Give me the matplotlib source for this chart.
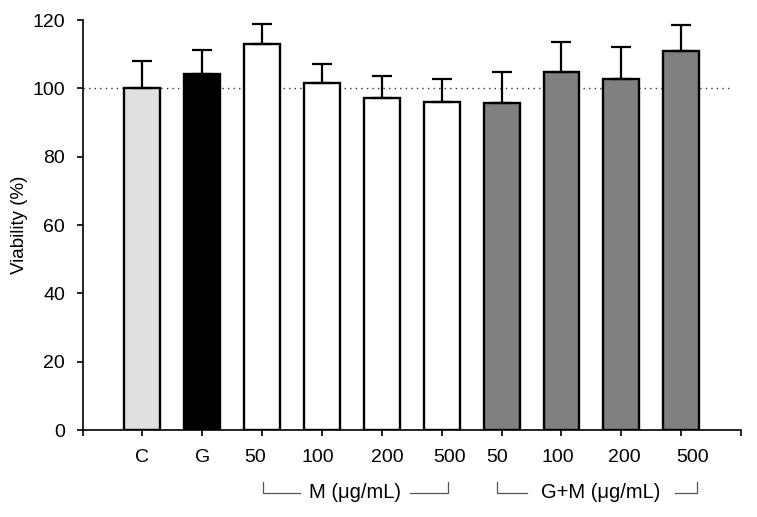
import matplotlib.pyplot as plt
import matplotlib.transforms as mtransforms
import numpy as np

plt.rcParams['font.family'] = ['Liberation Sans', 'DejaVu Sans']

# data
labels = ["C", "G", "50", "100", "200", "500", "50", "100", "200", "500"]
viability = [100.0, 104.2, 112.9, 101.5, 97.3, 96.1, 95.7, 104.9, 102.7, 111.0]
sd = [8.1, 7.0, 5.9, 5.8, 6.5, 6.6, 9.1, 8.6, 9.5, 7.6]
colors = ["#e0e0e0", "#000000"] + ["#ffffff"] * 4 + ["#808080"] * 4
groups = ["M (\u03bcg/mL)", "G+M (\u03bcg/mL)"]

# layout: small horizontal shifts of the tick labels (pixels), bracket ends (x units)
label_shift = [0, 0, -7, -4.5, 5, 8, -5, -3.5, 3, 11]
bracket_x = [(3.01, 3.63, 5.47, 6.11), (6.93, 7.43, 9.89, 10.27)]

fig = plt.figure(figsize=(7.57, 5.17), dpi=100)
ax = fig.add_axes([0.109, 0.168, 0.870, 0.793])

x = np.arange(1, len(labels) + 1)
ax.bar(x, viability, width=0.6, color=colors, edgecolor="black", linewidth=1.7, zorder=2)
ax.errorbar(x, viability, yerr=[np.zeros(len(sd)), sd], fmt="none", ecolor="black",
            elinewidth=1.6, capsize=7, capthick=1.6, zorder=3)

# reference line at 100 %
ax.plot([0, 10.85], [100, 100], linestyle=(0, (1, 3)), color="#333333", linewidth=1, zorder=1)

ax.set_xlim(0, 11)
ax.set_ylim(0, 120)
ax.set_yticks(range(0, 121, 20))
ax.set_xticks(range(0, 12))
ax.set_xticklabels([""] + labels + [""])
ax.tick_params(direction="out", length=4.5, width=1.2, labelsize=14)
ax.tick_params(axis="x", pad=9)
ax.tick_params(axis="y", pad=8)
ax.spines["top"].set_visible(False)
ax.spines["right"].set_visible(False)
ax.spines["left"].set_linewidth(1.2)
ax.spines["bottom"].set_linewidth(1.2)
ax.set_ylabel("Viability (%)", fontsize=13.5, labelpad=3)

for lab, dx in zip(ax.get_xticklabels()[1:-1], label_shift):
    lab.set_transform(lab.get_transform() +
                      mtransforms.ScaledTranslation(dx / 100, 0, fig.dpi_scale_trans))

# group brackets under the tick labels
trans = ax.get_xaxis_transform()
for name, (a, b, c, d) in zip(groups, bracket_x):
    ax.plot([a, a, b], [-0.126, -0.153, -0.153], color="#555555", linewidth=0.9,
            transform=trans, clip_on=False)
    ax.plot([c, d, d], [-0.153, -0.153, -0.126], color="#555555", linewidth=0.9,
            transform=trans, clip_on=False)
    ax.text((b + c) / 2, -0.153, name, ha="center", va="center", fontsize=14.5,
            transform=trans)

fig.savefig("out.png", dpi=100)
